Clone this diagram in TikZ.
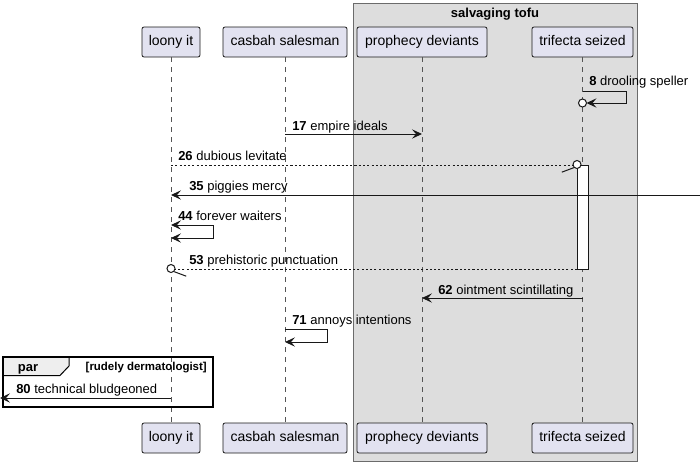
\documentclass[tikz,border=0pt]{standalone}
\usepackage{fontspec}
\setmainfont{Liberation Sans}
\usetikzlibrary{arrows.meta}
\definecolor{partfill}{HTML}{E2E2F0}
\definecolor{partline}{HTML}{181818}
\definecolor{grpfill}{HTML}{DDDDDD}
\definecolor{grpline}{HTML}{6B6B6B}
\definecolor{lifeline}{HTML}{555555}
\definecolor{tabfill}{HTML}{EEEEEE}
\tikzset{
  part/.style={draw=partline, fill=partfill, rounded corners=1.5pt, line width=0.6pt,
    minimum height=22.5pt, inner sep=0pt, text height=7.6pt, text depth=2.2pt, font=\fontsize{10.5}{12}\selectfont},
  life/.style={draw=lifeline, line width=0.6pt, dash pattern=on 3.75pt off 3.75pt},
  tip/.style={},
  msg/.style={draw=partline, line width=0.75pt, -{Stealth[length=7.5pt,width=7pt,inset=3pt]}},
  msgboth/.style={draw=partline, line width=0.75pt, {Stealth[length=7.5pt,width=7pt,inset=3pt]}-{Stealth[length=7.5pt,width=7pt,inset=3pt]}},
  rmsg/.style={draw=partline, line width=0.75pt, dash pattern=on 1.6pt off 1.6pt},
  lbl/.style={anchor=base west, inner sep=0pt, font=\fontsize{9.75}{11}\selectfont},
  circ/.style={draw=partline, line width=0.75pt, fill=white, circle, minimum size=6pt, inner sep=0pt},
}
\begin{document}
\begin{tikzpicture}[x=0.75pt, y=-0.75pt]
\useasboundingbox (0,0) rectangle (700,464);
% group
\draw[draw=grpline, fill=grpfill, line width=0.75pt] (353,3) rectangle (637,461);
\node[font=\fontsize{9.75}{11}\selectfont\bfseries] (grpT) at (495,14) {salvaging tofu};
% participants
\node[part, minimum width=43.5pt] (loT) at (171,42) {loony it};
\node[part, minimum width=93pt] (caT) at (285,42) {casbah salesman};
\node[part, minimum width=97.5pt] (prT) at (422,42) {prophecy deviants};
\node[part, minimum width=75.75pt] (trT) at (582.5,42) {trifecta seized};
\node[part, minimum width=43.5pt] (loB) at (171,438) {loony it};
\node[part, minimum width=93pt] (caB) at (285,438) {casbah salesman};
\node[part, minimum width=97.5pt] (prB) at (422,438) {prophecy deviants};
\node[part, minimum width=75.75pt] (trB) at (582.5,438) {trifecta seized};
\draw[life] (loT) -- (loB);
\draw[life] (caT) -- (caB);
\draw[life] (prT) -- (prB);
\draw[life] (trT) -- (trB);
% activation
\node[draw=partline, fill=white, line width=0.75pt, minimum width=8.25pt, minimum height=78pt, inner sep=0pt, anchor=north] (act) at (582.5,165) {};
% coordinates
\coordinate (a8) at (582.5,91); \coordinate (b8) at (626,91); \coordinate (c8) at (626,103); \coordinate (d8) at (586.5,103);
\coordinate (a17) at (285,134); \coordinate (b17) at (422,134);
\coordinate (a26) at (171,165); \coordinate (b26) at (573,165);
\coordinate (a35) at (700,195); \coordinate (b35) at (171,195);
\coordinate (a44) at (171,225); \coordinate (b44) at (213,225); \coordinate (c44) at (213,238); \coordinate (d44) at (171,238);
\coordinate (a53) at (577,269); \coordinate (b53) at (175,269);
\coordinate (a62) at (582.5,298); \coordinate (b62) at (422,298);
\coordinate (a71) at (285,329); \coordinate (b71) at (327,329); \coordinate (c71) at (327,342); \coordinate (d71) at (285,342);
\coordinate (a80) at (171,398); \coordinate (b80) at (0,398);
% messages
\draw[msg] (a8) -- (b8) -- (c8) -- (d8);
\node[circ] (o8) at (582.5,103) {};
\node[lbl] (t8) at (589,85.5) {\textbf{8} drooling speller};

\draw[msg] (a17) -- (b17);
\node[lbl] (t17) at (292,130.5) {\textbf{17} empire ideals};

\draw[rmsg] (a26) -- (b26);
\node[circ] (o26) at (577,164.5) {};
\draw[draw=partline, line width=0.75pt] (o26.south west) -- ++(-12,4.5);
\node[lbl] (t26) at (178,160.5) {\textbf{26} dubious levitate};

\draw[msg] (a35) -- (b35);
\node[lbl] (t35) at (189,190.5) {\textbf{35} piggies mercy};

\draw[msgboth] (a44) -- (b44) -- (c44) -- (d44);
\node[lbl] (t44) at (178,220.5) {\textbf{44} forever waiters};

\draw[rmsg] (a53) -- (b53);
\node[circ] (o53) at (171,268.5) {};
\draw[draw=partline, line width=0.75pt] (o53.south east) -- ++(12,4.5);
\node[lbl] (t53) at (189,264.5) {\textbf{53} prehistoric punctuation};

\draw[msg] (a62) -- (b62);
\node[lbl] (t62) at (438,294.5) {\textbf{62} ointment scintillating};

\draw[msg] (a71) -- (b71) -- (c71) -- (d71);
\node[lbl] (t71) at (292,324.5) {\textbf{71} annoys intentions};

% par frame
\draw[fill=tabfill, draw=black, line width=0.75pt] (3,357) -- (69,357) -- (69,366) -- (60,375.5) -- (3,375.5) -- cycle;
\draw[draw=black, line width=1.5pt] (3,357) rectangle (213,406.5);
\node[font=\fontsize{9.75}{11}\selectfont\bfseries, anchor=base] (par) at (28,371) {par};
\node[font=\fontsize{8.6}{10}\selectfont\bfseries, anchor=base east, inner sep=0pt] (guard) at (207,370) {[rudely dermatologist]};
\draw[msg] (a80) -- (b80);
\node[lbl] (t80) at (16,393.5) {\textbf{80} technical bludgeoned};
\end{tikzpicture}
\end{document}
